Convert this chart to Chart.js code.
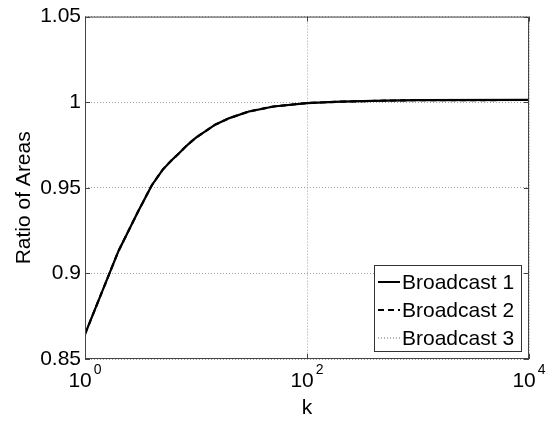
<!DOCTYPE html>
<html>
<head>
<meta charset="utf-8">
<script src="https://cdn.jsdelivr.net/npm/chart.js@4.4.0/dist/chart.umd.min.js"></script>
<style>
  html, body { margin: 0; padding: 0; background: #fff; }
  #wrap { width: 555px; height: 421px; }
</style>
</head>
<body>
<div id="wrap"><canvas id="ratio-chart" width="555" height="421"></canvas></div>
<script>
// values
const kValues = [1, 2, 3, 4, 5, 6, 7, 8, 9, 10, 15, 20, 30, 50, 100, 200, 500, 1000, 10000];
const broadcast1 = [0.8645, 0.913, 0.936, 0.9515, 0.9605, 0.966, 0.970, 0.9738, 0.9768, 0.9793, 0.987, 0.9907, 0.9946, 0.9975, 0.9995, 1.0003, 1.0009, 1.0012, 1.0013];
const broadcast2 = [0.8645, 0.913, 0.936, 0.9515, 0.9605, 0.966, 0.970, 0.9738, 0.9768, 0.9793, 0.987, 0.9907, 0.9946, 0.9975, 0.9995, 1.0003, 1.0009, 1.0012, 1.0013];
const broadcast3 = [0.8645, 0.913, 0.936, 0.9515, 0.9605, 0.966, 0.970, 0.9738, 0.9768, 0.9793, 0.987, 0.9907, 0.9946, 0.9975, 0.9995, 1.0003, 1.0009, 1.0012, 1.0013];
const seriesLabels = ['Broadcast 1', 'Broadcast 2', 'Broadcast 3'];
const xTicks = [1, 100, 10000];
const xTickExponents = ['0', '2', '4'];
const yTicks = [0.85, 0.9, 0.95, 1, 1.05];
const yTickLabels = ['0.85', '0.9', '0.95', '1', '1.05'];

const FONT = '"Liberation Sans", Arial, Helvetica, sans-serif';
const FONT_SIZE = 21;

const toPoints = vals => kValues.map((k, i) => ({ x: k, y: vals[i] }));

// box round the axes, inward ticks, x labels with exponents, y title
const axesDecor = {
  id: 'axesDecor',
  afterDatasetsDraw(chart) {
    const { ctx, chartArea: a, scales } = chart;
    ctx.save();
    ctx.strokeStyle = '#444';
    ctx.lineWidth = 1;
    ctx.strokeRect(a.left + 0.5, a.top + 0.5, a.right - a.left - 1, a.bottom - a.top - 1);

    // ticks pointing inward
    ctx.beginPath();
    xTicks.forEach(v => {
      const px = Math.round(scales.x.getPixelForValue(v)) + 0.5;
      ctx.moveTo(px, a.bottom); ctx.lineTo(px, a.bottom - 5);
      ctx.moveTo(px, a.top); ctx.lineTo(px, a.top + 5);
    });
    yTicks.forEach(v => {
      const py = Math.round(scales.y.getPixelForValue(v)) + 0.5;
      ctx.moveTo(a.left, py); ctx.lineTo(a.left + 5, py);
      ctx.moveTo(a.right, py); ctx.lineTo(a.right - 5, py);
    });
    ctx.stroke();

    // x tick labels: 10 with a raised exponent
    ctx.fillStyle = '#000';
    ctx.textBaseline = 'alphabetic';
    ctx.textAlign = 'left';
    xTicks.forEach((v, i) => {
      const px = scales.x.getPixelForValue(v);
      ctx.font = FONT_SIZE + 'px ' + FONT;
      const w1 = ctx.measureText('10').width;
      ctx.font = '14px ' + FONT;
      const w2 = ctx.measureText(xTickExponents[i]).width;
      const x0 = px - (w1 + w2 + 2) / 2;
      ctx.font = FONT_SIZE + 'px ' + FONT;
      ctx.fillText('10', x0, a.bottom + 28);
      ctx.font = '14px ' + FONT;
      ctx.fillText(xTickExponents[i], x0 + w1 + 2, a.bottom + 15);
    });

    // y axis title
    ctx.font = FONT_SIZE + 'px ' + FONT;
    ctx.textAlign = 'center';
    ctx.textBaseline = 'middle';
    ctx.translate(24, (a.top + a.bottom) / 2 + 10);
    ctx.rotate(-Math.PI / 2);
    ctx.fillText('Ratio of Areas', 0, 0);
    ctx.restore();
  }
};

// legend box in the lower right corner of the axes
const boxLegend = {
  id: 'boxLegend',
  afterDraw(chart) {
    const { ctx, chartArea: a } = chart;
    const w = 147, h = 86;
    const left = a.right - 8 - w;
    const top = a.bottom - 8 - h;
    ctx.save();
    ctx.fillStyle = '#fff';
    ctx.fillRect(left, top, w, h);
    ctx.strokeStyle = '#333';
    ctx.lineWidth = 1;
    ctx.strokeRect(left + 0.5, top + 0.5, w, h);
    ctx.font = FONT_SIZE + 'px ' + FONT;
    ctx.textBaseline = 'middle';
    ctx.textAlign = 'left';
    chart.data.datasets.forEach((ds, i) => {
      const y = top + 17 + i * 28;
      const dotted = ds.borderDash && ds.borderDash[0] === 1;
      ctx.beginPath();
      ctx.setLineDash(ds.borderDash || []);
      ctx.lineWidth = dotted ? 1 : 2;
      ctx.strokeStyle = dotted ? '#666' : '#000';
      ctx.moveTo(left + 4, y);
      ctx.lineTo(left + 26, y);
      ctx.stroke();
      ctx.setLineDash([]);
      ctx.fillStyle = '#000';
      ctx.fillText(ds.label, left + 28, y + 1);
    });
    ctx.restore();
  }
};

const ctx = document.getElementById('ratio-chart');
new Chart(ctx, {
  type: 'line',
  data: {
    datasets: [
      { label: seriesLabels[0], data: toPoints(broadcast1), borderColor: '#000', borderWidth: 2.2, borderDash: [] },
      { label: seriesLabels[1], data: toPoints(broadcast2), borderColor: '#000', borderWidth: 2.2, borderDash: [6, 4] },
      { label: seriesLabels[2], data: toPoints(broadcast3), borderColor: '#000', borderWidth: 1.5, borderDash: [1, 2] }
    ]
  },
  options: {
    responsive: false,
    animation: false,
    layout: { padding: { top: 13, right: 26, left: 0, bottom: 0 } },
    elements: { point: { radius: 0 }, line: { tension: 0 } },
    plugins: {
      legend: { display: false },
      tooltip: { enabled: false }
    },
    scales: {
      x: {
        type: 'logarithmic',
        min: 1,
        max: 10000,
        afterBuildTicks: s => { s.ticks = xTicks.map(v => ({ value: v })); },
        afterFit: s => { s.height = 62; },
        ticks: { display: false },
        grid: { color: '#a0a0a0', lineWidth: 1, drawTicks: false },
        border: { display: false, dash: [1, 2] },
        title: {
          display: true,
          text: 'k',
          color: '#000',
          font: { family: FONT, size: FONT_SIZE },
          padding: { top: 1, bottom: 0 }
        }
      },
      y: {
        min: 0.85,
        max: 1.05,
        afterBuildTicks: s => { s.ticks = yTicks.map(v => ({ value: v })); },
        afterFit: s => { s.width = 85; },
        ticks: {
          color: '#000',
          padding: 4,
          font: { family: FONT, size: FONT_SIZE },
          callback: v => yTickLabels[yTicks.indexOf(v)]
        },
        grid: { color: '#a0a0a0', lineWidth: 1, drawTicks: false },
        border: { display: false, dash: [1, 2] }
      }
    }
  },
  plugins: [axesDecor, boxLegend]
});
</script>
</body>
</html>
